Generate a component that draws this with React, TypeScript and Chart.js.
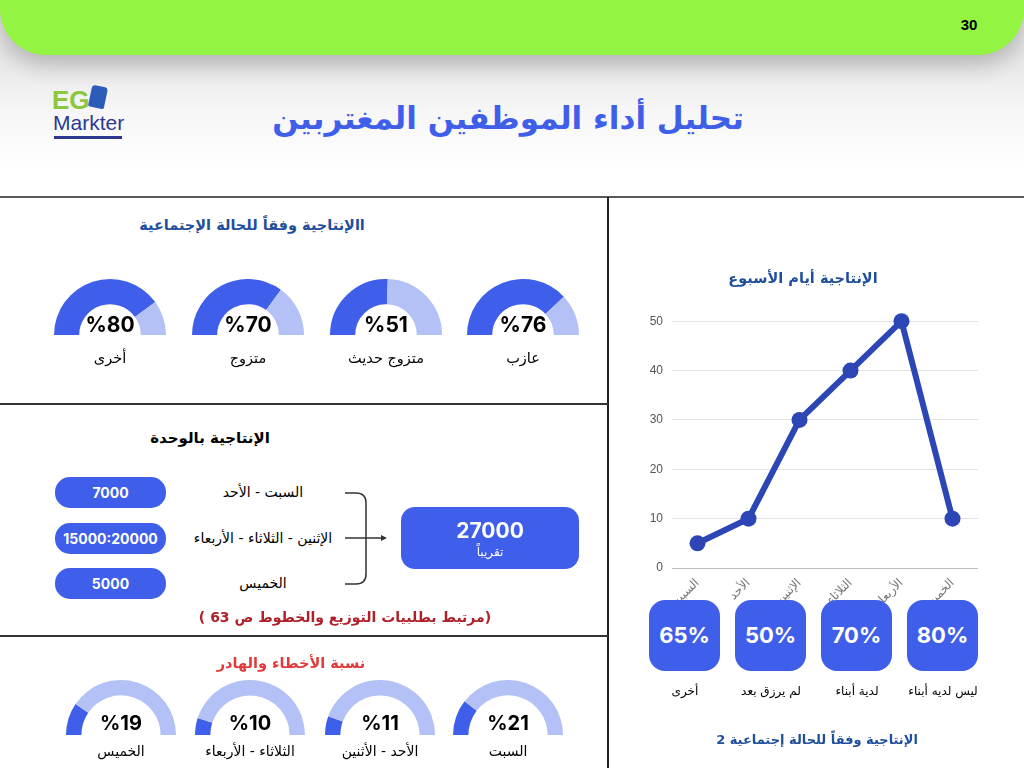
import React, { useEffect, useRef } from "react";
import { Chart, registerables } from "chart.js";

Chart.register(...registerables);

// ---------- data ----------
const pageNumber = "30";
const mainTitle = "تحليل أداء الموظفين المغتربين";

const statusTitle = "االإنتاجية وفقاً للحالة الإجتماعية";
const statusLabels = ["عازب", "متزوج حديث", "متزوج", "أخرى"];
const statusValues = [76, 51, 70, 80];

const unitTitle = "الإنتاجية بالوحدة";
const unitDays = ["السبت - الأحد", "الإثنين - الثلاثاء - الأربعاء", "الخميس"];
const unitValues = ["7000", "15000:20000", "5000"];
const unitTotal = "27000";
const unitTotalNote = "تقريباً";
const unitNote = "(مرتبط بطلبيات التوزيع والخطوط ص 63 )";

const errorTitle = "نسبة الأخطاء والهادر";
const errorLabels = ["السبت", "الأحد - الأثنين", "الثلاثاء - الأربعاء", "الخميس"];
const errorValues = [21, 11, 10, 19];

const weekTitle = "الإنتاجية أيام الأسبوع";
const weekDays = ["السبت", "الأحد", "الإثنين", "الثلاثاء", "الأربعاء", "الخميس"];
const weekValues = [5, 10, 30, 40, 50, 10];
const weekTicks = [0, 10, 20, 30, 40, 50];

const kidsTitle = "الإنتاجية وفقاً للحالة إجتماعية 2";
const kidsLabels = ["ليس لديه أبناء", "لدية أبناء", "لم يرزق بعد", "أخرى"];
const kidsValues = [80, 70, 50, 65];

// ---------- styles ----------
const DARK = "#3F5FEA";
const LIGHT = "#B3C1F7";
const LINE = "#2C47B5";
const NAVY = "#1F4E9C";
const AR = '"DejaVu Sans", sans-serif';
const NUM = 'Inter, "Liberation Sans", sans-serif';

function T(props: any) {
  const { x, y, w = 400, size = 14, weight = 400, color = "#000", font = AR, children, dir = "rtl" } = props;
  const lh = Math.round(size * 1.4);
  return (
    <div
      dir={dir}
      style={{
        position: "absolute",
        left: x - w / 2,
        top: y - lh / 2,
        width: w,
        height: lh,
        lineHeight: lh + "px",
        textAlign: "center",
        fontSize: size,
        fontWeight: weight,
        color,
        fontFamily: font,
        whiteSpace: "nowrap",
      }}
    >
      {children}
    </div>
  );
}

function Gauge(props: any) {
  const { cx, base, r, cutout, value } = props;
  const ref = useRef<HTMLCanvasElement>(null);
  useEffect(() => {
    const chart = new Chart(ref.current!, {
      type: "doughnut",
      data: {
        labels: ["a", "b"],
        datasets: [
          {
            data: [value, 100 - value],
            backgroundColor: [DARK, LIGHT],
            borderWidth: 0,
            hoverOffset: 0,
          },
        ],
      },
      options: {
        animation: false,
        responsive: false,
        rotation: -90,
        circumference: 180,
        cutout,
        plugins: { legend: { display: false }, tooltip: { enabled: false } },
        events: [],
      },
    });
    return () => chart.destroy();
  }, []);
  return (
    <canvas
      ref={ref}
      width={2 * r}
      height={r}
      style={{ position: "absolute", left: cx - r, top: base - r, width: 2 * r, height: r }}
    />
  );
}

function LineChart() {
  const ref = useRef<HTMLCanvasElement>(null);
  useEffect(() => {
    const chart = new Chart(ref.current!, {
      type: "line",
      data: {
        labels: weekDays,
        datasets: [
          {
            data: weekValues,
            borderColor: LINE,
            backgroundColor: LINE,
            borderWidth: 6,
            pointRadius: 8,
            pointBackgroundColor: LINE,
            pointBorderWidth: 0,
            tension: 0,
            clip: false,
          },
        ],
      },
      options: {
        animation: false,
        responsive: false,
        events: [],
        layout: { padding: { top: 15, right: 12, left: 0, bottom: 0 } },
        plugins: { legend: { display: false }, tooltip: { enabled: false } },
        scales: {
          x: {
            offset: true,
            grid: { display: false },
            border: { display: false },
            ticks: {
              autoSkip: false,
              minRotation: 45,
              maxRotation: 45,
              color: "#777",
              font: { size: 12, family: AR },
              padding: 0,
            },
            afterFit: (s: any) => {
              s.height = 52;
            },
          },
          y: {
            min: 0,
            max: 50,
            afterBuildTicks: (s: any) => {
              s.ticks = weekTicks.map((v) => ({ value: v }));
            },
            ticks: { color: "#555", font: { size: 12, family: '"Liberation Sans", sans-serif' }, padding: 9 },
            grid: {
              color: (c: any) => (c.tick && c.tick.value === 0 ? "#bdbdbd" : "#e2e2e2"),
              drawTicks: false,
              lineWidth: 1,
            },
            border: { display: false },
            afterFit: (s: any) => {
              s.width = 42;
            },
          },
        },
      },
    });
    return () => chart.destroy();
  }, []);
  return (
    <canvas
      ref={ref}
      width={360}
      height={315}
      style={{ position: "absolute", left: 630, top: 305, width: 360, height: 315 }}
    />
  );
}

const statusCx = [523, 386, 248, 110];
const errorCx = [508, 380, 250, 121];
const kidsLeft = [907, 821, 735, 649];
const unitY = [492, 538, 583];

export default function App() {
  return (
    <div
      style={{
        position: "fixed",
        left: 0,
        top: 0,
        width: 1024,
        height: 768,
        overflow: "hidden",
        background: "linear-gradient(#e6e6e6 55px, #f6f6f6 110px, #ffffff 170px)",
      }}
    >
      {/* header */}
      <div
        style={{
          position: "absolute",
          left: 0,
          top: -60,
          width: 1024,
          height: 115,
          background: "#93F442",
          borderRadius: "0 0 46px 46px",
          boxShadow: "0 10px 22px rgba(0,0,0,0.22)",
        }}
      />
      <T x={969} y={24} size={15} weight={700} font={'"Liberation Sans", sans-serif'} dir="ltr" w={60}>
        {pageNumber}
      </T>

      {/* logo */}
      <div style={{ position: "absolute", left: 52, top: 86, fontFamily: '"Liberation Sans", sans-serif', fontWeight: 700, fontSize: 26, color: "#8DC63F", lineHeight: "28px" }}>
        EG
      </div>
      <div style={{ position: "absolute", left: 90, top: 86, width: 16, height: 22, background: "#2C5BB8", borderRadius: "4px 4px 2px 2px", transform: "rotate(12deg)" }} />
      <div style={{ position: "absolute", left: 53, top: 112, fontFamily: '"Liberation Sans", sans-serif', fontSize: 21, color: "#2B3990", lineHeight: "22px" }}>
        Markter
      </div>
      <div style={{ position: "absolute", left: 54, top: 136, width: 68, height: 3, background: "#2B3990" }} />

      <T x={508} y={118} size={31} weight={700} color="#3F5FEA" w={700}>
        {mainTitle}
      </T>

      {/* frame lines */}
      <div style={{ position: "absolute", left: 0, top: 196, width: 1024, height: 2, background: "#5a5a5a" }} />
      <div style={{ position: "absolute", left: 607, top: 197, width: 2, height: 571, background: "#222" }} />
      <div style={{ position: "absolute", left: 0, top: 403, width: 608, height: 2, background: "#333" }} />
      <div style={{ position: "absolute", left: 0, top: 635, width: 608, height: 2, background: "#333" }} />

      {/* status gauges */}
      <T x={252} y={225} size={14.5} weight={700} color={NAVY}>
        {statusTitle}
      </T>
      {statusValues.map((v, i) => (
        <React.Fragment key={"s" + i}>
          <Gauge cx={statusCx[i]} base={335} r={56} cutout="55%" value={v} />
          <T x={statusCx[i]} y={324} size={21} weight={700} font={NUM} dir="ltr" w={100}>
            {"%" + v}
          </T>
          <T x={statusCx[i]} y={358} size={14.5} w={140}>
            {statusLabels[i]}
          </T>
        </React.Fragment>
      ))}

      {/* unit productivity */}
      <T x={210} y={438} size={15} weight={700}>
        {unitTitle}
      </T>
      {unitValues.map((v, i) => (
        <React.Fragment key={"u" + i}>
          <div
            style={{
              position: "absolute",
              left: 55,
              top: unitY[i] - 15,
              width: 111,
              height: 31,
              borderRadius: 15,
              background: DARK,
              color: "#fff",
              fontFamily: NUM,
              fontWeight: 700,
              fontSize: 14,
              lineHeight: "31px",
              textAlign: "center",
            }}
          >
            {v}
          </div>
          <T x={263} y={unitY[i]} size={14} w={220}>
            {unitDays[i]}
          </T>
        </React.Fragment>
      ))}
      <svg style={{ position: "absolute", left: 0, top: 0 }} width={1024} height={768}>
        <path d="M345 493 H356 Q366 493 366 503 V574 Q366 584 356 584 H345" fill="none" stroke="#333" strokeWidth={1.5} />
        <line x1={345} y1={538} x2={384} y2={538} stroke="#333" strokeWidth={1.5} />
        <path d="M381 535 L387 538 L381 541 Z" fill="#333" />
      </svg>
      <div
        style={{
          position: "absolute",
          left: 401,
          top: 507,
          width: 178,
          height: 62,
          borderRadius: 14,
          background: DARK,
        }}
      />
      <T x={490} y={530} size={21} weight={700} color="#fff" font={NUM} dir="ltr" w={170}>
        {unitTotal}
      </T>
      <T x={490} y={552} size={12} color="#fff" w={170}>
        {unitTotalNote}
      </T>
      <T x={345} y={617} size={14} weight={700} color="#B0202A" w={400}>
        {unitNote}
      </T>

      {/* error gauges */}
      <T x={291} y={663} size={14.5} weight={700} color="#E23A3A">
        {errorTitle}
      </T>
      {errorValues.map((v, i) => (
        <React.Fragment key={"e" + i}>
          <Gauge cx={errorCx[i]} base={735} r={55} cutout="72%" value={v} />
          <T x={errorCx[i]} y={723} size={20} weight={700} font={NUM} dir="ltr" w={100}>
            {"%" + v}
          </T>
          <T x={errorCx[i]} y={751} size={14} w={140}>
            {errorLabels[i]}
          </T>
        </React.Fragment>
      ))}

      {/* week line chart */}
      <T x={803} y={278} size={14.5} weight={700} color={NAVY}>
        {weekTitle}
      </T>
      <LineChart />

      {/* kids boxes */}
      {kidsValues.map((v, i) => (
        <React.Fragment key={"k" + i}>
          <div
            style={{
              position: "absolute",
              left: kidsLeft[i],
              top: 600,
              width: 71,
              height: 71,
              borderRadius: 16,
              background: DARK,
              color: "#fff",
              fontFamily: NUM,
              fontWeight: 700,
              fontSize: 22,
              lineHeight: "71px",
              textAlign: "center",
            }}
          >
            {v + "%"}
          </div>
          <T x={kidsLeft[i] + 36} y={691} size={12} w={120}>
            {kidsLabels[i]}
          </T>
        </React.Fragment>
      ))}
      <T x={817} y={740} size={13} weight={700} color={NAVY}>
        {kidsTitle}
      </T>
    </div>
  );
}
